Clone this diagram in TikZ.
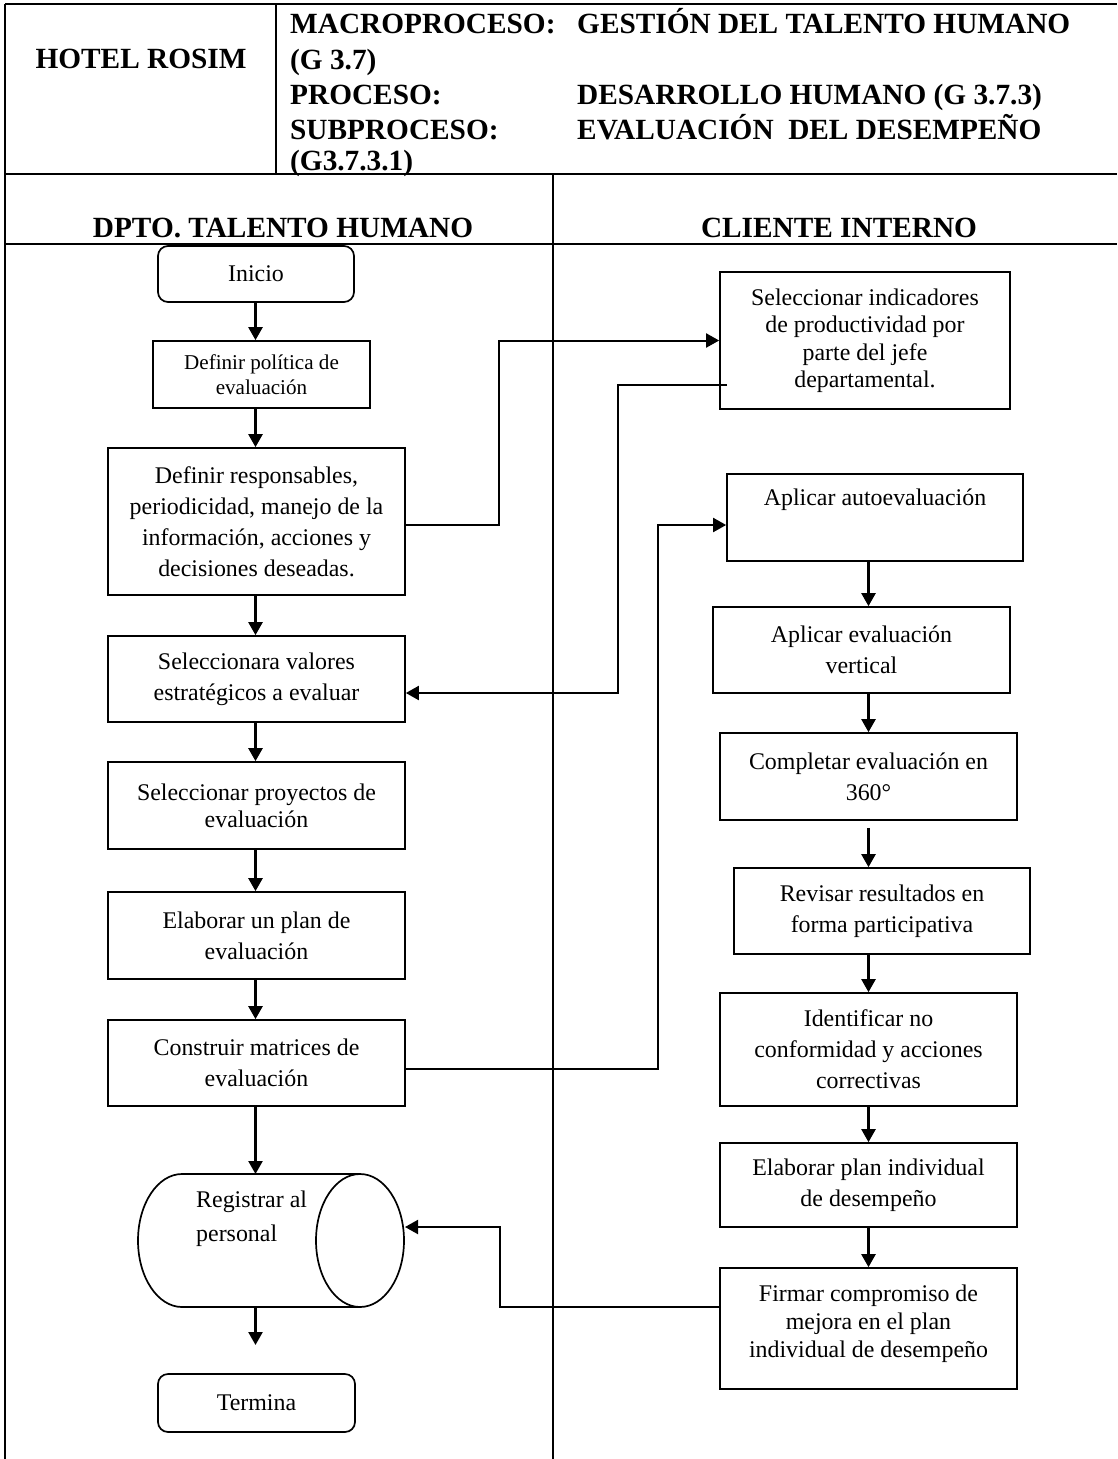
\documentclass[tikz,border=0pt]{standalone}
\usepackage{fontspec}
\setmainfont{Liberation Serif}
\usetikzlibrary{arrows.meta,calc}
\begin{document}
\begin{tikzpicture}[x=1pt,y=-1pt,
  frame/.style={line width=2pt},
  proc/.style={draw, line width=1.7pt, rectangle, inner sep=0pt, align=center,
    font=\fontsize{23.9}{31}\selectfont},
  term/.style={proc, rounded corners=10pt},
  small/.style={font=\fontsize{21.1}{25}\selectfont},
  tight/.style={font=\fontsize{23.9}{27.5}\selectfont},
  flow/.style={line width=2.4pt, -{Triangle[length=13pt,width=14pt]}},
  linkarr/.style={line width=2pt, -{Triangle[length=13pt,width=14pt]}},
  head/.style={font=\fontsize{29.3}{34}\selectfont\bfseries, inner sep=0pt},
]
\useasboundingbox (0,0) rectangle (1117,1459);

% table frame
\draw[frame] (5,4) -- (1117,4);
\draw[frame] (5,4) -- (5,1459);
\draw[frame] (276,4) -- (276,174);
\draw[frame] (5,174) -- (1117,174);
\draw[frame] (553,174) -- (553,1459);
\draw[frame] (5,244) -- (1117,244);

% header
\node[head, anchor=base] (hotel) at (141,68) {HOTEL ROSIM};
\node[head, anchor=base west] (macro) at (290,33) {MACROPROCESO:};
\node[head, anchor=base west] (macroval) at (577,33) {GESTIÓN DEL TALENTO HUMANO};
\node[head, anchor=base west] (macrocode) at (290,69) {(G 3.7)};
\node[head, anchor=base west] (proclbl) at (290,104) {PROCESO:};
\node[head, anchor=base west] (procval) at (577,104) {DESARROLLO HUMANO (G 3.7.3)};
\node[head, anchor=base west] (sublbl) at (290,139) {SUBPROCESO:};
\node[head, anchor=base west] (subval) at (577,139) {EVALUACIÓN\ \ DEL DESEMPEÑO};
\node[head, anchor=base west] (subcode) at (290,170) {(G3.7.3.1)};

% lane titles
\node[head, anchor=base] (lane1) at (283,237) {DPTO. TALENTO HUMANO};
\node[head, anchor=base] (lane2) at (839,237) {CLIENTE INTERNO};

% arrow axes of the two lanes
\coordinate (lax) at (255.5,0);
\coordinate (rax) at (868.5,0);

% left lane
\node[term, minimum width=196pt, minimum height=56pt] (inicio) at (256,274) {Inicio};
\node[proc, small, minimum width=217pt, minimum height=67pt] (defpol) at (261.5,374.5)
  {Definir política de\\evaluación};
\node[proc, minimum width=297pt, minimum height=147pt] (defresp) at (256.5,521.5)
  {Definir responsables,\\periodicidad, manejo de la\\información, acciones y\\decisiones deseadas.};
\node[proc, minimum width=297pt, minimum height=86pt] (selval) at (256.5,679)
  {Seleccionara valores\\estratégicos a evaluar};
\node[proc, font=\fontsize{23.9}{27}\selectfont, minimum width=297pt, minimum height=87pt] (selproy) at (256.5,805.5)
  {Seleccionar proyectos de\\evaluación};
\node[proc, minimum width=297pt, minimum height=87pt] (elabplan) at (256.5,935.5)
  {Elaborar un plan de\\evaluación};
\node[proc, minimum width=297pt, minimum height=86pt] (constr) at (256.5,1063)
  {Construir matrices de\\evaluación};

% storage cylinder
\draw[line width=1.7pt] (360,1174) -- (182,1174)
  arc[start angle=90, end angle=270, x radius=44pt, y radius=66.5pt] -- (360,1307);
\draw[line width=1.7pt] (360,1240.5) ellipse [x radius=44pt, y radius=66.5pt];
\coordinate (cyltop) at (255.5,1174);
\coordinate (cylbot) at (255.5,1307);
\coordinate (cylin) at (405,1227);
\node[anchor=north west, inner sep=0pt, align=left, font=\fontsize{23.9}{34}\selectfont]
  (regtxt) at (196,1191) {Registrar al\\personal};
\coordinate (endarrow) at (255.5,1345);

\node[term, minimum width=197pt, minimum height=58pt] (termina) at (256.5,1403) {Termina};

% right lane
\node[proc, tight, minimum width=290pt, minimum height=137pt] (indic) at (865,340.5)
  {Seleccionar indicadores\\de productividad por\\parte del jefe\\departamental.};
\node[proc, minimum width=296pt, minimum height=87pt] (autoev) at (875,517.5)
  {Aplicar autoevaluación\\\strut};
\node[proc, minimum width=297pt, minimum height=86pt] (vert) at (861.5,650)
  {Aplicar evaluación\\vertical};
\node[proc, minimum width=297pt, minimum height=87pt] (compl) at (868.5,776.5)
  {Completar evaluación en\\360°};
\node[proc, minimum width=296pt, minimum height=86pt] (revis) at (882,911)
  {Revisar resultados en\\forma participativa};
\node[proc, minimum width=297pt, minimum height=113pt] (ident) at (868.5,1049.5)
  {Identificar no\\conformidad y acciones\\correctivas};
\node[proc, minimum width=297pt, minimum height=84pt] (elabind) at (868.5,1185)
  {Elaborar plan individual\\de desempeño};
\node[proc, font=\fontsize{23.9}{28}\selectfont, minimum width=297pt, minimum height=121pt] (firmar) at (868.5,1328.5)
  {Firmar compromiso de\\mejora en el plan\\individual de desempeño\\[-14pt]\mbox{}};

% main flow, left lane
\draw[flow] (inicio.south -| lax) -- (defpol.north -| lax);
\draw[flow] (defpol.south -| lax) -- (defresp.north -| lax);
\draw[flow] (defresp.south -| lax) -- (selval.north -| lax);
\draw[flow] (selval.south -| lax) -- (selproy.north -| lax);
\draw[flow] (selproy.south -| lax) -- (elabplan.north -| lax);
\draw[flow] (elabplan.south -| lax) -- (constr.north -| lax);
\draw[flow] (constr.south -| lax) -- (cyltop);
\draw[flow] (cylbot) -- (endarrow);

% main flow, right lane
\draw[flow] (autoev.south -| rax) -- (vert.north -| rax);
\draw[flow] (vert.south -| rax) -- (compl.north -| rax);
\draw[flow] ($(compl.south -| rax)+(0,7)$) -- (revis.north -| rax);
\draw[flow] (revis.south -| rax) -- (ident.north -| rax);
\draw[flow] (ident.south -| rax) -- (elabind.north -| rax);
\draw[flow] (elabind.south -| rax) -- (firmar.north -| rax);

% links between the lanes
\coordinate (b1) at (499,0);
\coordinate (b2) at (618,0);
\coordinate (b3) at (658,0);
\coordinate (b4) at (500,0);
\coordinate (selvalin) at ($(selval.east)+(0,14)$);
\coordinate (autoin) at ($(autoev.west)+(0,7.5)$);
\draw[linkarr] ($(defresp.east)+(0,3.5)$) -| (b1 |- indic.west) -- (indic.west);
\draw[linkarr] ($(indic.south west)+(8,-25)$) -| (b2 |- selvalin) -- (selvalin);
\draw[linkarr] ($(constr.east)+(0,6)$) -| (b3 |- autoin) -- (autoin);
\draw[linkarr] ($(firmar.west)+(0,-21.5)$) -| (b4 |- cylin) -- (cylin);
\end{tikzpicture}
\end{document}
